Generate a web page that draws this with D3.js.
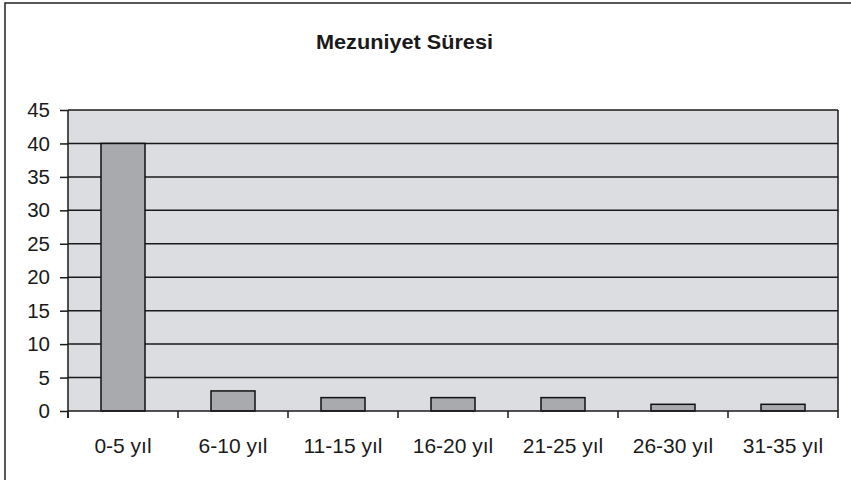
<!DOCTYPE html>
<html>
<head>
<meta charset="utf-8">
<script src="https://cdn.jsdelivr.net/npm/d3@7"></script>
<style>
  body { margin: 0; background: #fff; }
  text { font-family: "Liberation Sans", Arial, sans-serif; fill: #1a1a1a; }
</style>
</head>
<body>
<svg width="851" height="480"></svg>
<script>
// chart data
let categories = ["0-5 yıl", "6-10 yıl", "11-15 yıl", "16-20 yıl", "21-25 yıl", "26-30 yıl", "31-35 yıl"];
let counts = [40, 3, 2, 2, 2, 1, 1];
let yTicks = [0, 5, 10, 15, 20, 25, 30, 35, 40, 45];
let chartTitle = "Mezuniyet Süresi";

let margin = {
  top:    110,
  right:  13,  // plot ends at 838
  bottom: 69,  // room for category labels
  left:   68
};
let svg = d3.select("svg");
let width = 851, height = 480;
let plotWidth = width - margin.left - margin.right;
let plotHeight = height - margin.top - margin.bottom;

// outer frame (only top and left edges are visible in the picture)
svg.append("rect")
  .attr("x", 5).attr("y", 3)
  .attr("width", 1000).attr("height", 1000)
  .attr("fill", "none")
  .attr("stroke", "#222")
  .attr("stroke-width", 1.5);

svg.append("text")
  .attr("x", 316).attr("y", 49)
  .attr("textLength", 177)
  .attr("lengthAdjust", "spacingAndGlyphs")
  .style("font-size", "20px")
  .style("font-weight", "bold")
  .text(chartTitle);

let g = svg.append("g")
  .attr("transform", "translate(" + margin.left + "," + margin.top + ")");

let x = d3.scaleBand()
  .domain(categories)
  .range([0, plotWidth])
  .paddingInner(0.6)
  .paddingOuter(0.3);

let y = d3.scaleLinear()
  .domain([0, 45])
  .range([plotHeight, 0]);

// plot background
g.append("rect")
  .attr("width", plotWidth)
  .attr("height", plotHeight)
  .attr("fill", "#dcdde0");

// gridlines
g.selectAll(".grid")
  .data(yTicks.filter(d => d > 0))
  .enter().append("line")
  .attr("x1", 0).attr("x2", plotWidth)
  .attr("y1", d => y(d)).attr("y2", d => y(d))
  .attr("stroke", "#1a1a1a")
  .attr("stroke-width", 1.5);

// right edge of plot
g.append("line")
  .attr("x1", plotWidth).attr("x2", plotWidth)
  .attr("y1", 0).attr("y2", plotHeight)
  .attr("stroke", "#1a1a1a")
  .attr("stroke-width", 1.5);

// bars
g.selectAll(".bar")
  .data(counts)
  .enter().append("rect")
  .attr("x", (d, i) => x(categories[i]))
  .attr("y", d => y(d))
  .attr("width", x.bandwidth())
  .attr("height", d => plotHeight - y(d))
  .attr("fill", "#a9aaae")
  .attr("stroke", "#111")
  .attr("stroke-width", 1.5);

// y axis
let yAxis = g.append("g")
  .call(d3.axisLeft(y).tickValues(yTicks).tickSize(8).tickPadding(10));
yAxis.select(".domain").attr("stroke", "#1a1a1a").attr("stroke-width", 1.5)
  .attr("d", "M0,0V" + (plotHeight + 7));
yAxis.selectAll(".tick line").attr("stroke", "#1a1a1a").attr("stroke-width", 1.5);
yAxis.selectAll("text")
  .style("font-size", "20.5px")
  .style("font-family", "'Liberation Sans', Arial, sans-serif")
  .attr("fill", "#1a1a1a");

// x axis: ticks between categories, labels centered
let xAxis = g.append("g")
  .attr("transform", "translate(0," + plotHeight + ")");
xAxis.append("line")
  .attr("x1", 0).attr("x2", plotWidth)
  .attr("stroke", "#1a1a1a")
  .attr("stroke-width", 1.5);
let step = x.step();
xAxis.selectAll(".xt")
  .data(d3.range(categories.length + 1))
  .enter().append("line")
  .attr("x1", i => i * step).attr("x2", i => i * step)
  .attr("y1", 0).attr("y2", 7)
  .attr("stroke", "#1a1a1a")
  .attr("stroke-width", 1.5);
xAxis.selectAll(".xl")
  .data(categories)
  .enter().append("text")
  .attr("x", d => x(d) + x.bandwidth() / 2)
  .attr("y", 42)
  .attr("text-anchor", "middle")
  .style("font-size", "21px")
  .text(d => d);
</script>
</body>
</html>
